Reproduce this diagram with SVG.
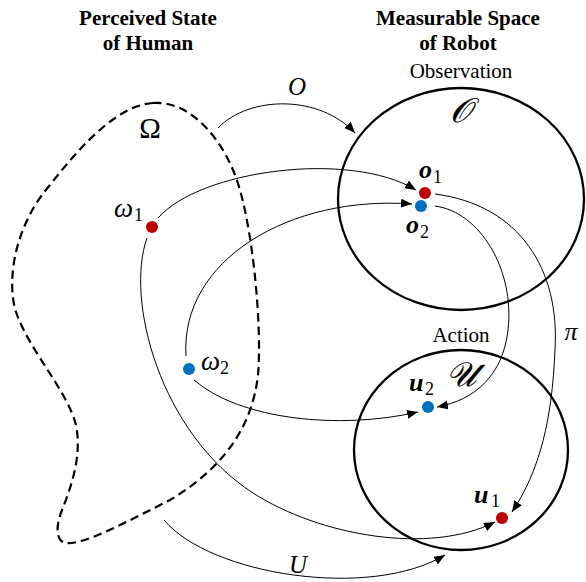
<svg xmlns="http://www.w3.org/2000/svg" width="586" height="582" viewBox="0 0 586 582">
<style>
.title{font-family:"Liberation Serif",serif;font-weight:bold;font-size:21px;text-anchor:middle;fill:#000}
.lab{font-family:"Liberation Serif",serif;font-size:21px;text-anchor:middle;fill:#000}
.mi{font-family:"Liberation Serif",serif;font-style:italic;fill:#000}
.up{font-family:"Liberation Serif",serif;font-style:normal;fill:#000}
.bv{font-family:"Liberation Serif",serif;font-style:italic;font-weight:bold;font-size:26px;fill:#000}
.sub{font-family:"Liberation Serif",serif;font-size:18px;fill:#000}
.scr{font-family:"DejaVu Serif","Noto Sans",serif;font-style:italic;font-size:34px;fill:#000;stroke:#000;stroke-width:0.3;text-anchor:middle}
.space{fill:none;stroke:#000;stroke-width:2.3}
.conn{fill:none;stroke:#000;stroke-width:1;marker-end:url(#ah)}
.red{fill:#C00000}
.blue{fill:#0070C0}
</style>
<defs>
<marker id="ah" markerUnits="userSpaceOnUse" markerWidth="12" markerHeight="10" refX="11" refY="4.5" orient="auto">
<path d="M0,0 L11,4.5 L0,9 Z" fill="#000"/>
</marker>
</defs>
<g id="titles">
<text class="title" x="148" y="25">Perceived State</text>
<text class="title" x="148" y="50">of Human</text>
<text class="title" x="458" y="25">Measurable Space</text>
<text class="title" x="458" y="50">of Robot</text>
</g>
<g id="omega-space">
<path d="M153,103 C190,100 226,140 240,190 C254,240 262,330 258,375 C252,430 220,470 170,500 C130,520 85,545 66,543 C55,541 56,525 62,510 C72,485 82,455 76,425 C67,390 30,352 16,312 C6,280 15,225 50,185 C85,140 120,105 153,103 Z" fill="none" stroke="#000" stroke-width="2.2" stroke-dasharray="8.5,5"/>
<text class="up" x="150" y="138" font-size="29" text-anchor="middle">Ω</text>
</g>
<g id="observation-space">
<ellipse class="space" cx="461" cy="199" rx="123" ry="111"/>
<text class="lab" x="461" y="78">Observation</text>
<text class="scr" x="460" y="122">𝒪</text>
</g>
<g id="action-space">
<ellipse class="space" cx="461" cy="450" rx="107" ry="100"/>
<text class="lab" x="461" y="342">Action</text>
<text class="scr" x="461" y="386">𝒰</text>
</g>
<g id="connectors">
<path class="conn" d="M218,128 C250,95 320,95 355,133"/>
<path class="conn" d="M164,520 C210,575 370,600 445,555"/>
<path class="conn" d="M158,218 C200,170 350,150 416,190"/>
<path class="conn" d="M147,238 C125,300 160,433 253,493 C320,536 430,555 495,522"/>
<path class="conn" d="M186,356 C180,260 290,195 412,204"/>
<path class="conn" d="M194,380 C240,420 340,430 418,412"/>
<path class="conn" d="M435,194 C520,205 560,270 555,350 C552,420 540,470 512,512"/>
<path class="conn" d="M435,206 C480,212 515,270 508,330 C503,375 475,400 437,407"/>
<text class="mi" x="297" y="95" font-size="25" text-anchor="middle">O</text>
<text class="mi" x="298" y="573" font-size="25" text-anchor="middle">U</text>
<text class="mi" x="571" y="340" font-size="26" text-anchor="middle">π</text>
</g>
<g id="omega1">
<circle class="red" cx="152" cy="227" r="6"/>
<text class="mi" x="114" y="217" font-size="27">ω</text>
<text class="sub" x="134" y="221">1</text>
</g>
<g id="omega2">
<circle class="blue" cx="189" cy="369" r="6"/>
<text class="mi" x="201" y="370" font-size="27">ω</text>
<text class="sub" x="220" y="374">2</text>
</g>
<g id="o1">
<circle class="red" cx="425" cy="193" r="6"/>
<text class="bv" x="419" y="178">o</text>
<text class="sub" x="433" y="183">1</text>
</g>
<g id="o2">
<circle class="blue" cx="421" cy="206" r="6"/>
<text class="bv" x="406" y="233">o</text>
<text class="sub" x="420" y="238">2</text>
</g>
<g id="u2">
<circle class="blue" cx="428" cy="407" r="6"/>
<text class="bv" x="409" y="391">u</text>
<text class="sub" x="425" y="395">2</text>
</g>
<g id="u1">
<circle class="red" cx="502" cy="518" r="6"/>
<text class="bv" x="474" y="503">u</text>
<text class="sub" x="491" y="507">1</text>
</g>
</svg>
